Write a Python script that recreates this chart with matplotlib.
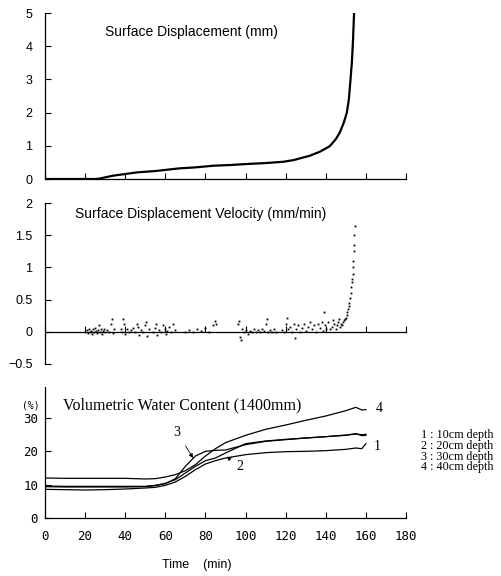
import matplotlib
matplotlib.use("Agg")
import matplotlib.pyplot as plt

# --- surface displacement (mm) ---
disp_t = [0, 20, 25, 27, 30, 34, 40, 46, 55, 67, 75, 84, 92, 100, 110, 119,
          124, 127, 132, 137, 140, 142, 145, 147, 149, 150.5, 151.5, 152.2,
          153, 153.6, 154.1]
disp_mm = [0, 0, 0, 0.01, 0.05, 0.1, 0.15, 0.2, 0.24, 0.32, 0.35, 0.4, 0.42,
           0.45, 0.48, 0.52, 0.57, 0.62, 0.7, 0.82, 0.92, 0.99, 1.2, 1.4, 1.7,
           2.0, 2.4, 2.9, 3.5, 4.2, 5.0]

# --- surface displacement velocity (mm/min), scanned dots ---
vel_t = [20, 21, 21.5, 22, 22.5, 23, 23.5, 24, 24.5, 25, 25.5, 26, 26.5, 27,
         27.5, 28, 28.5, 29, 29.5, 30, 31, 32, 33, 33.5, 34, 34.5,
         38, 38.5, 39, 39.5, 40, 41, 42, 43, 44, 45, 46, 46.5, 47, 48, 49, 50,
         50.5, 51, 52,
         54, 55, 55.5, 56, 57, 58, 59, 60, 60.5, 61, 62, 63, 64, 65,
         70, 72, 74, 76, 78, 80, 82, 84, 85, 85.5,
         96, 96.5, 97, 97.5, 98, 99, 100, 101, 102, 103, 104, 105, 106, 107,
         108, 109, 110, 110.5, 111, 112, 113, 114, 115,
         118, 119, 120, 120.5, 121, 122, 123, 124, 124.5, 125, 126, 127, 128,
         129, 130, 131, 132, 133, 134, 135, 136, 137, 138, 138.5, 139, 139.5,
         140, 141, 142, 143, 143.5, 144, 145, 145.5, 146, 146.5, 147, 147.5,
         148, 148.5, 149, 149.5, 150, 150.4, 150.8, 151.2, 151.5, 151.8,
         152.1, 152.4, 152.7, 153, 153.2, 153.4, 153.6, 153.8, 154, 154.2,
         154.3, 154.5]
vel_v = [0.0, 0.03, -0.02, 0.05, 0.0, 0.02, -0.03, 0.04, 0.0, 0.06, 0.01,
         -0.02, 0.03, 0.1, 0.0, 0.04, -0.03, 0.02, 0.05, 0.0, 0.03, 0.0, 0.12,
         0.2, -0.02, 0.05,
         0.05, 0.0, 0.2, 0.12, -0.03, 0.04, 0.0, 0.03, 0.06, 0.0, 0.12, 0.08,
         -0.05, 0.03, 0.0, 0.1, 0.15, -0.07, 0.04,
         0.0, 0.06, 0.12, -0.05, 0.03, 0.0, 0.1, 0.04, -0.03, 0.02, 0.08, 0.0,
         0.12, 0.03,
         0.0, 0.03, 0.0, 0.05, 0.02, 0.06, 0.0, 0.1, 0.17, 0.12,
         0.12, 0.17, -0.08, -0.13, 0.05, 0.0, 0.03, -0.03, 0.02, 0.0, 0.04,
         0.0, 0.03, 0.0, 0.05, 0.02, 0.12, 0.2, 0.0, 0.03, 0.0, 0.05, 0.0,
         0.03, 0.0, 0.12, 0.22, 0.05, 0.08, 0.0, 0.12, -0.1, 0.04, 0.1, 0.0,
         0.06, 0.12, 0.02, 0.08, 0.15, 0.04, 0.1, 0.0, 0.12, 0.06, 0.15, 0.02,
         0.3, 0.1,
         0.05, 0.15, 0.05, 0.08, 0.18, 0.12, 0.05, 0.1, 0.15, 0.2, 0.08, 0.12,
         0.1, 0.15, 0.18, 0.2, 0.22, 0.26, 0.3, 0.35, 0.4, 0.45,
         0.52, 0.6, 0.7, 0.78, 0.82, 0.9, 1.0, 1.1, 1.25, 1.35,
         1.5, 1.65]

# --- volumetric water content (%) ---
vwc_t = [0, 10, 20, 30, 40, 50, 55, 60, 65, 70, 75, 80, 85, 90, 100, 110,
         120, 130, 140, 150, 155, 158, 160]
vwc_10cm = [8.6, 8.5, 8.4, 8.5, 8.7, 9.0, 9.2, 9.8, 10.8, 12.5, 14.5, 16.2,
            17.2, 18.0, 19.0, 19.6, 19.9, 20.0, 20.2, 20.6, 21.0, 20.8, 22.3]
vwc_20cm = [9.6, 9.5, 9.5, 9.5, 9.5, 9.5, 9.8, 10.4, 11.5, 13.5, 15.5, 17.2,
            18.0, 19.5, 22.3, 23.1, 23.6, 24.0, 24.4, 24.8, 25.3, 24.7, 24.8]
vwc_30cm = [9.4, 9.3, 9.3, 9.3, 9.3, 9.4, 9.7, 10.3, 11.8, 15.5, 18.6, 20.0,
            20.3, 20.4, 22.0, 23.0, 23.5, 24.0, 24.4, 24.9, 25.2, 25.0, 25.1]
vwc_40cm = [12.0, 11.9, 11.9, 11.9, 11.9, 11.7, 11.8, 12.3, 13.0, 14.2, 16.0,
            18.6, 20.8, 22.6, 24.8, 26.6, 27.9, 29.3, 30.6, 32.2, 33.2, 32.4,
            32.5]
depth_labels = ["1 : 10cm depth", "2 : 20cm depth", "3 : 30cm depth",
                "4 : 40cm depth"]
time_ticks = list(range(0, 181, 20))

SANS = "Liberation Sans"
SERIF = "Liberation Serif"
MONO = "DejaVu Sans Mono"

fig = plt.figure(figsize=(5.02, 5.76), dpi=100)
W, H = 502, 576


def box(left, top, right, bottom):
    return [left / W, 1 - bottom / H, (right - left) / W, (bottom - top) / H]


# fig-pixel texts (y measured from the top)
def ptext(x, y, s, **kw):
    fig.text(x / W, 1 - y / H, s, **kw)


def style(ax):
    for s in ("top", "right"):
        ax.spines[s].set_visible(False)
    for s in ("left", "bottom"):
        ax.spines[s].set_linewidth(0.9)
    ax.set_xlim(0, 180)
    ax.set_xticks(time_ticks)
    ax.tick_params(direction="in", length=4, width=0.8)


# top: displacement
ax1 = fig.add_axes(box(45, 13, 406, 179))
style(ax1)
ax1.plot(disp_t, disp_mm, color="black", lw=1.6)
ax1.set_ylim(0, 5)
ax1.set_yticks(range(0, 6))
ax1.tick_params(axis="x", labelbottom=False)
ax1.tick_params(axis="y", labelsize=9, pad=9)
for lab in ax1.get_yticklabels():
    lab.set_fontfamily(SANS)
ptext(105, 32, "Surface Displacement (mm)", fontsize=10, family=SANS,
      va="center")

# middle: velocity
ax2 = fig.add_axes(box(45, 203, 406, 364))
style(ax2)
ax2.spines["bottom"].set_position(("data", 0))
ax2.plot(vel_t, vel_v, ls="none", marker="s", ms=1.3, color="black", mew=0)
ax2.set_ylim(-0.5, 2)
ax2.set_yticks([-0.5, 0, 0.5, 1, 1.5, 2])
ax2.set_yticklabels(["\u22120.5", "0", "0.5", "1", "1.5", "2"])
ax2.tick_params(axis="x", labelbottom=False)
ax2.tick_params(axis="y", labelsize=9, pad=9)
for lab in ax2.get_yticklabels():
    lab.set_fontfamily(SANS)
ptext(75, 214, "Surface Displacement Velocity (mm/min)", fontsize=10,
      family=SANS, va="center")

# bottom: water content
ax3 = fig.add_axes(box(45, 387, 406, 518))
style(ax3)
for vals in (vwc_10cm, vwc_20cm, vwc_30cm, vwc_40cm):
    ax3.plot(vwc_t, vals, color="black", lw=0.9)
ax3.set_ylim(0, 39.3)
ax3.set_yticks([0, 10, 20, 30])
ax3.tick_params(axis="both", labelsize=9)
ax3.tick_params(axis="y", pad=5)
ax3.tick_params(axis="x", pad=9)
for lab in ax3.get_xticklabels() + ax3.get_yticklabels():
    lab.set_fontfamily(MONO)

ptext(63, 405, "Volumetric Water Content (1400mm)", family=SERIF,
      fontsize=11.5, va="center")
ptext(31, 405, "(%)", family=MONO, fontsize=7, va="center", ha="center")
for i, lab in enumerate(depth_labels):
    ptext(421, 435 + i * 10.8, lab, family=SERIF, fontsize=8.7, va="center")
ptext(197, 565, "Time    (min)", family=SANS, fontsize=9, va="center",
      ha="center")

# curve labels
ax3.annotate("3", xy=(73.8, 18.0), xytext=(65.8, 25.8), fontsize=10,
             family=SERIF, ha="center", va="center",
             arrowprops=dict(arrowstyle="-|>", lw=0.6, color="black",
                             mutation_scale=6, shrinkA=4, shrinkB=0))
ax3.annotate("2", xy=(90.6, 18.4), xytext=(97.2, 15.4), fontsize=10,
             family=SERIF, ha="center", va="center",
             arrowprops=dict(arrowstyle="-|>", lw=0.6, color="black",
                             mutation_scale=6, shrinkA=4, shrinkB=0))
ax3.text(165.5, 21.6, "1", fontsize=10, family=SERIF, ha="center",
         va="center")
ax3.text(166.8, 32.8, "4", fontsize=10, family=SERIF, ha="center",
         va="center")

fig.savefig("out.png", dpi=100)
